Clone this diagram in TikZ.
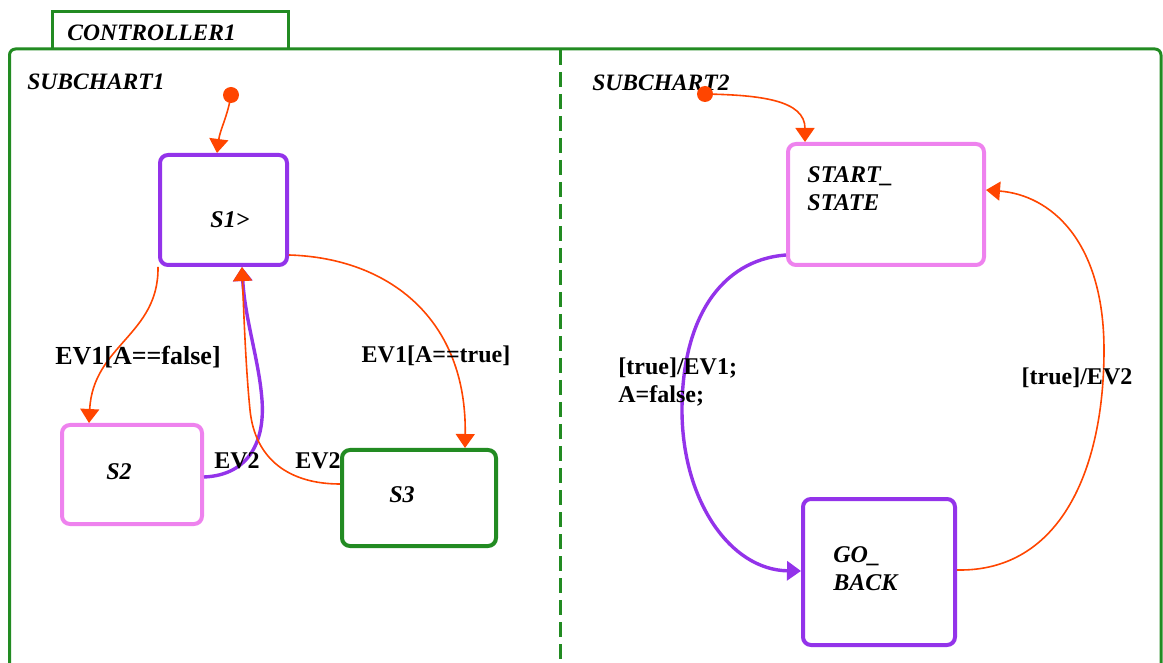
\documentclass[tikz,border=0pt]{standalone}
\usepackage{fontspec}
\setmainfont{Liberation Serif}
\usetikzlibrary{arrows.meta,calc,fit}
\definecolor{sfgreen}{RGB}{34,139,34}
\definecolor{sfpurple}{RGB}{147,51,234}
\definecolor{sfpink}{RGB}{238,130,238}
\definecolor{sforange}{RGB}{255,69,0}
\tikzset{
  stbox/.style={draw, line width=2pt, rounded corners=4pt, inner sep=0pt, rectangle},
  stname/.style={font=\fontsize{12}{14}\selectfont\bfseries\itshape, align=left, inner sep=0pt},
  lbl/.style={font=\fontsize{12}{14}\selectfont\bfseries, align=left, inner sep=0pt},
  chartname/.style={font=\fontsize{11.75}{14}\selectfont\bfseries\itshape, inner sep=0pt, anchor=west},
  otr/.style={draw=sforange, line width=0.8pt, -{Triangle[width=9.5pt,length=7pt]}, sforange},
  ptr/.style={draw=sfpurple, line width=1.7pt, -{Triangle[width=9.5pt,length=7pt]}, sfpurple},
  initdot/.style={circle, fill=sforange, minimum size=8pt, inner sep=0pt},
}
\begin{document}
\begin{tikzpicture}[x=0.5pt,y=-0.5pt]
\useasboundingbox (0,0) rectangle (1163,663);
% container
\draw[sfgreen, line width=1.5pt] (52,49) -- (52,12) -- (288,12) -- (288,49);
\draw[sfgreen, line width=1.5pt, rounded corners=3pt] (9.5,680) -- (9.5,49) -- (1161,49) -- (1161,680);
\draw[sfgreen, line width=1.5pt, dash pattern=on 7.5pt off 3.5pt] (560,50) -- (560,663);
\node[chartname] (ctrl) at (67,33) {CONTROLLER1};
\node[chartname] (sc1) at (27,82) {SUBCHART1};
\node[chartname] (sc2) at (592,83) {SUBCHART2};
% states
\node[stbox, draw=sfpurple, fit={(160,155) (287,265)}] (S1) {};
\node[stbox, draw=sfpink, fit={(62,425) (202,524)}] (S2) {};
\node[stbox, draw=sfgreen, fit={(342,450) (496,546)}] (S3) {};
\node[stbox, draw=sfpink, fit={(788,144) (984,265)}] (ST) {};
\node[stbox, draw=sfpurple, fit={(803,499) (955,645)}] (GB) {};
\node[stname] (t1) at (230,220) {S1>};
\node[stname] (t2) at (119,472) {S2};
\node[stname] (t3) at (402,495) {S3};
\node[stname, anchor=west] (tst) at (807,189) {START\_\\STATE};
\node[stname, anchor=west] (tgb) at (833,569) {GO\_\\BACK};
% initial transitions
\node[initdot] (i1) at (231,95) {};
\node[initdot] (i2) at (705,94) {};
\draw[otr] (i1.center) .. controls (228,115) and (220,130) .. ($(S1.north west)+(59,0)$);
\draw[otr] (i2.center) .. controls (760,95) and (805,100) .. ($(ST.north west)+(19,0)$);
% subchart 1 transitions
\draw[otr] (S1.south west) .. controls (159,335) and (93,345) .. ($(S2.north west)+(29,0)$);
\draw[otr] ($(S1.south east)+(0,-12)$) .. controls (390,258) and (467,320) .. ($(S3.north west)+(125,0)$);
\draw[ptr] ($(S2.south east)+(0,-49)$) .. controls (250,475) and (265,440) .. (262,400) .. controls (259,360) and (245,320) .. ($(S1.south west)+(84,0)$);
\draw[otr] ($(S3.north west)+(0,36)$) .. controls (290,484) and (255,460) .. (250,410) .. controls (246,370) and (244,320) .. ($(S1.south west)+(84,0)$);
% subchart 2 transitions
\draw[ptr] ($(ST.south west)+(0,-12)$) .. controls (720,260) and (682,320) .. (682,410) .. controls (682,500) and (730,570) .. ($(GB.north west)+(0,74)$);
\draw[otr] ($(GB.north east)+(0,73)$) .. controls (1060,572) and (1104,470) .. (1104,350) .. controls (1104,240) and (1050,195) .. ($(ST.north east)+(0,48)$);
% labels
\node[lbl, font=\fontsize{13}{15}\selectfont\bfseries] (l1) at (138,357) {EV1[A==false]};
\node[lbl] (l2) at (436,356) {EV1[A==true]};
\node[lbl] (l3) at (237,461) {EV2};
\node[lbl] (l4) at (318,461) {EV2};
\node[lbl, anchor=west] (l5) at (618,382) {[true]/EV1;\\A=false;};
\node[lbl] (l6) at (1077,378) {[true]/EV2};
\end{tikzpicture}
\end{document}
